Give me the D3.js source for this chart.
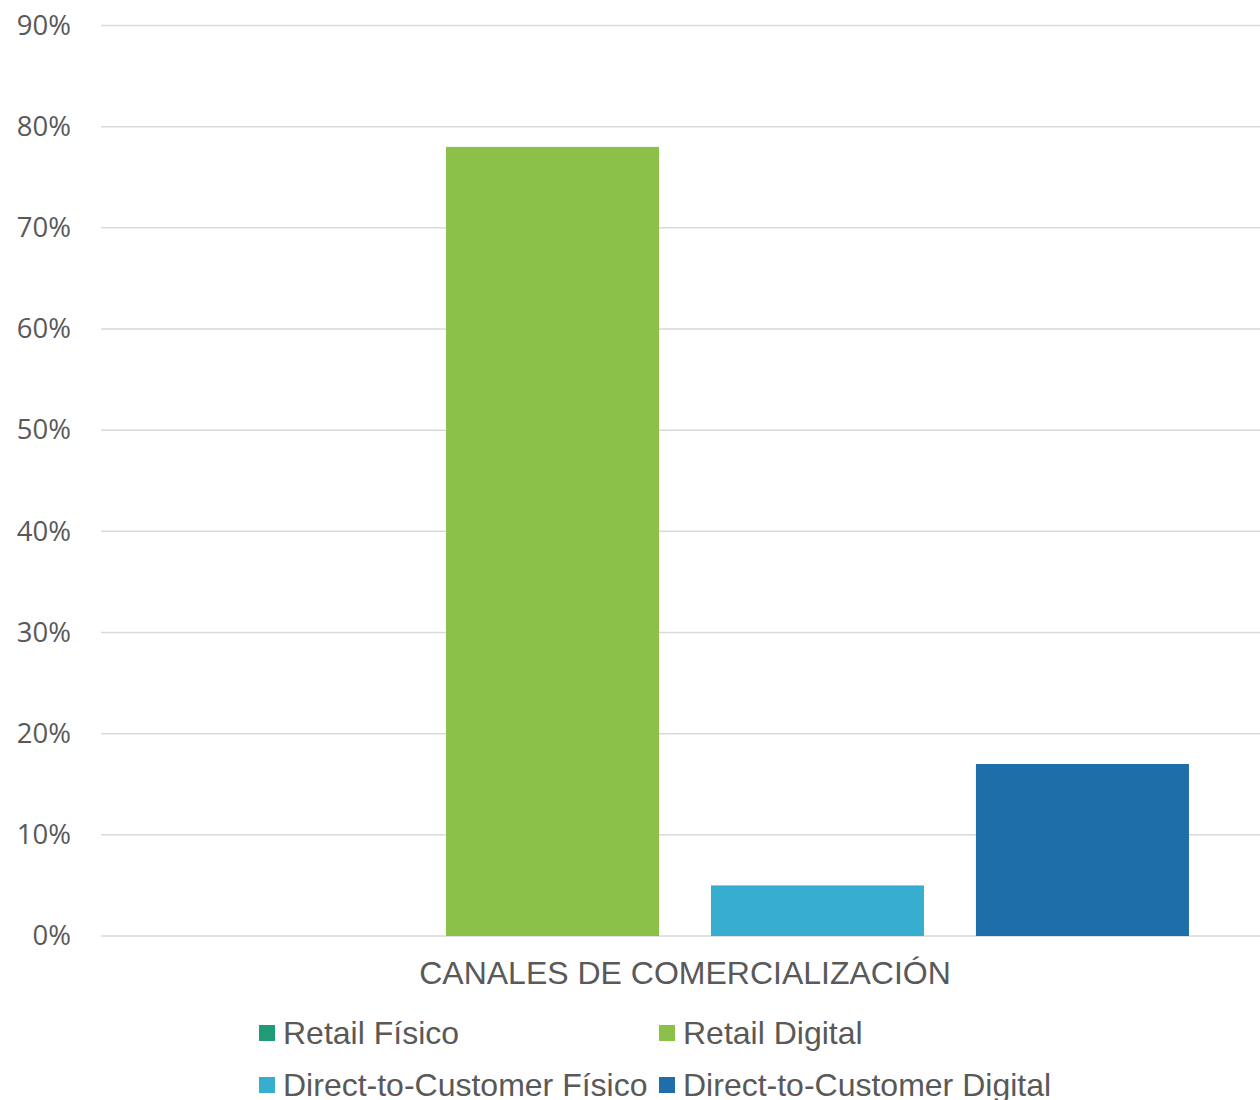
<!DOCTYPE html>
<html>
<head>
<meta charset="utf-8">
<script src="https://cdn.jsdelivr.net/npm/d3@7"></script>
<style>
  body { margin: 0; background: #fff; }
  svg { display: block; }
</style>
</head>
<body>
<svg id="chart" width="1260" height="1100"></svg>
<script>
// data
const categories = ['CANALES DE COMERCIALIZACIÓN']
const seriesNames = ['Retail Físico', 'Retail Digital', 'Direct-to-Customer Físico', 'Direct-to-Customer Digital']
const seriesValues = [0, 0.78, 0.05, 0.17]
const seriesColors = ['#1f9b77', '#8bc148', '#37aecf', '#1e6fa9']
const yTicks = [0, 0.1, 0.2, 0.3, 0.4, 0.5, 0.6, 0.7, 0.8, 0.9]

const svg = d3.select('#chart')
const margin = { top: 25.5, left: 101, right: -9, bottom: 164 }
const fullWidth = 1260
const fullHeight = 1100

// scales
const y = d3.scaleLinear()
  .domain([0, 0.9])
  .range([fullHeight - margin.bottom, margin.top])

const x0 = d3.scaleBand()
  .domain(categories)
  .range([margin.left, fullWidth - margin.right])
  .paddingInner(0)
  .paddingOuter(0.0794)

const x1 = d3.scaleBand()
  .domain(seriesNames)
  .range([0, x0.bandwidth()])
  .paddingInner(0.196)
  .paddingOuter(0)

// gridlines
svg.append('g')
  .selectAll('line')
  .data(yTicks)
  .join('line')
  .attr('x1', margin.left)
  .attr('x2', fullWidth - margin.right)
  .attr('y1', d => y(d))
  .attr('y2', d => y(d))
  .attr('stroke', '#d9d9d9')
  .attr('stroke-width', 1.5)

// y axis labels
const yAxis = d3.axisLeft(y)
  .tickValues(yTicks)
  .tickFormat(d3.format('.0%'))
  .tickSize(0)
  .tickPadding(0)
svg.append('g')
  .attr('transform', 'translate(71,0)')
  .call(yAxis)
  .call(g => g.select('.domain').remove())
  .call(g => g.selectAll('text')
    .attr('fill', '#595959')
    .style('font-family', '"Open Sans", sans-serif')
    .style('font-size', '27.5px'))

// bars
svg.append('g')
  .selectAll('g')
  .data(categories)
  .join('g')
  .attr('transform', d => 'translate(' + x0(d) + ',0)')
  .selectAll('rect')
  .data(() => seriesNames.map((s, i) => ({ name: s, value: seriesValues[i], color: seriesColors[i] })))
  .join('rect')
  .attr('x', d => x1(d.name))
  .attr('width', x1.bandwidth())
  .attr('y', d => y(d.value))
  .attr('height', d => y(0) - y(d.value))
  .attr('fill', d => d.color)

// category label
svg.append('g')
  .selectAll('text')
  .data(categories)
  .join('text')
  .attr('x', d => x0(d) + x0.bandwidth() / 2)
  .attr('y', 984)
  .attr('text-anchor', 'middle')
  .attr('fill', '#595959')
  .style('font-family', '"Liberation Sans", Arial, sans-serif')
  .style('font-size', '32px')
  .text(d => d)

// legend
const legendPos = [
  { x: 259, y: 1033 },
  { x: 659, y: 1033 },
  { x: 259, y: 1085 },
  { x: 659, y: 1085 }
]
const legend = svg.append('g')
  .selectAll('g')
  .data(seriesNames)
  .join('g')
  .attr('transform', (d, i) => 'translate(' + legendPos[i].x + ',' + legendPos[i].y + ')')
legend.append('rect')
  .attr('x', 0)
  .attr('y', -8)
  .attr('width', 16)
  .attr('height', 16)
  .attr('fill', (d, i) => seriesColors[i])
legend.append('text')
  .attr('x', 24)
  .attr('y', 11)
  .attr('fill', '#595959')
  .style('font-family', '"Liberation Sans", Arial, sans-serif')
  .style('font-size', '32px')
  .text(d => d)
</script>
</body>
</html>
